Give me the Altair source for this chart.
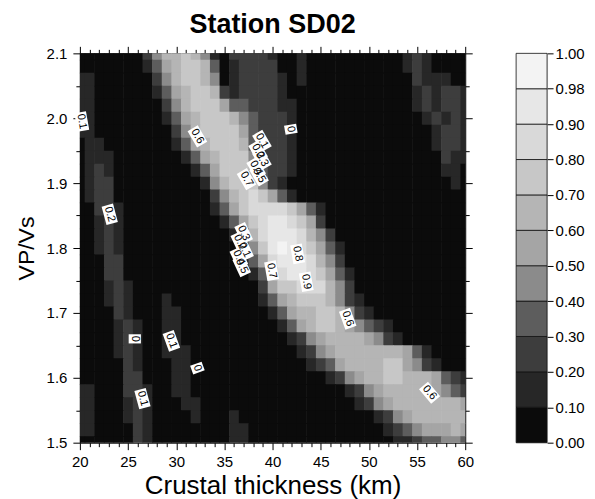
import altair as alt
import pandas as pd

# Grid of the H-k stack.
# Columns: crustal thickness 20..60 km (1 km step); rows: Vp/Vs from 2.10 down to 1.50 (0.02 step).
# Each character is the contour band: 0 = 0.00-0.10, 1 = 0.10-0.20, ... 9 = 0.90-0.98, A = 0.98-1.00
H_VALUES = list(range(20, 61))
K_VALUES = [2.10, 2.08, 2.06, 2.04, 2.02, 2.00, 1.98, 1.96, 1.94, 1.92, 1.90,
            1.88, 1.86, 1.84, 1.82, 1.80, 1.78, 1.76, 1.74, 1.72, 1.70,
            1.68, 1.66, 1.64, 1.62, 1.60, 1.58, 1.56, 1.54, 1.52, 1.50]
ROWS = [
    "0000000246 6764102222 1001000000 0000121000 0",  # 2.10
    "0000000135 6776301222 2001000000 0000121000 0",  # 2.08
    "1100000024 6776401222 2101000000 0000021110 0",  # 2.06
    "1100000013 5677621222 2100000000 0000012122 1",  # 2.04
    "1100000002 4677753322 2110000000 0000012122 1",  # 2.02
    "1100000001 3567776432 2210000000 0000001212 1",  # 2.00
    "1100000000 2467777532 2210000000 0000000122 1",  # 1.98
    "0110000000 1356777632 2210000000 0000000122 1",  # 1.96
    "0111000000 0135677742 2210000000 0000000021 1",  # 1.94
    "0121000000 0013577763 2210000000 0000000011 0",  # 1.92
    "0122000000 0001467774 2100000000 0000000001 0",  # 1.90
    "0122000000 0000246787 5310000000 0000000000 0",  # 1.88
    "0022100000 0000135788 8875310000 0000000000 0",  # 1.86
    "0012100000 0000013578 9987520000 0000000000 0",  # 1.84
    "0012100000 0000001368 9998642000 0000000000 0",  # 1.82
    "0012100000 0000000247 9A98753100 0000000000 0",  # 1.80
    "0002200000 0000000135 8999864200 0000000000 0",  # 1.78
    "0002200000 0000000013 7899875310 0000000000 0",  # 1.76
    "0001210000 0000000002 5778886420 0000000000 0",  # 1.74
    "0001210001 0000000001 3567776421 0000000000 0",  # 1.72
    "0000210001 1000000000 1356677642 1000000000 0",  # 1.70
    "0000121001 1000000000 0135677654 3210000000 0",  # 1.68
    "0000121001 1000000000 0012456666 5421000000 0",  # 1.66
    "0000121001 1100000000 0001245666 6666531000 0",  # 1.64
    "0000021000 1100000000 0000123566 6677542100 0",  # 1.62
    "0000022000 1100000000 0000001245 6677666532 1",  # 1.60
    "1100022100 1100000000 0000000012 4566666543 2",  # 1.58
    "1100012100 0110000000 0000000001 2456666666 5",  # 1.56
    "1100012100 0010001000 0000000000 0124566666 6",  # 1.54
    "1100002100 0000001100 0000000000 0012345556 5",  # 1.52
    "0000002100 0000001100 0000000000 0001123344 3",  # 1.50
]

LEVELS = ["0", "1", "2", "3", "4", "5", "6", "7", "8", "9", "A"]
LEVEL_COLORS = ["#0b0b0b", "#272727", "#3d3d3d", "#5d5d5d", "#8b8b8b", "#a5a5a5",
                "#b5b5b5", "#c7c7c7", "#d9d9d9", "#e7e7e7", "#f3f3f3"]
BAR_LABELS = ["0.00", "0.10", "0.20", "0.30", "0.40", "0.50", "0.60",
              "0.70", "0.80", "0.90", "0.98", "1.00"]
X_TICKS = list(range(20, 61))
Y_TICKS = [1.5, 1.55, 1.6, 1.65, 1.7, 1.75, 1.8, 1.85, 1.9, 1.95, 2.0, 2.05, 2.1]

# contour labels (text, thickness, vp/vs, rotation)
LABEL_TEXT = ["0.1", "0.6", "0", "0.2", "0.7", "0.1", "0.2", "0.3", "0.4", "0.5",
              "0.3", "0.2", "0.1", "0.4", "0.5", "0.8", "0.9", "0.7", "0.6", "0.6",
              "0", "0.1", "0", "0.1"]
LABEL_H = [20.2, 32.2, 41.9, 23.1, 37.3, 38.9, 38.5, 38.9, 38.3, 38.6,
           37.0, 36.6, 37.1, 36.5, 36.8, 42.6, 43.5, 39.9, 47.8, 56.3,
           25.7, 29.5, 32.2, 26.5]
LABEL_K = [1.995, 1.972, 1.983, 1.852, 1.906, 1.965, 1.949, 1.937, 1.923, 1.912,
           1.823, 1.809, 1.797, 1.785, 1.772, 1.791, 1.748, 1.765, 1.691, 1.577,
           1.660, 1.657, 1.615, 1.568]
LABEL_ANGLE = [80, 60, 80, 75, 60, 60, 60, 60, 60, 60,
               65, 65, 65, 65, 65, 80, 80, 80, 70, 50,
               90, 70, 70, 75]

H_STEP = 1.0
K_STEP = 0.02

recs = []
for k, row in zip(K_VALUES, ROWS):
    s = row.replace(" ", "")
    s = (s + "0" * len(H_VALUES))[:len(H_VALUES)]
    for h, ch in zip(H_VALUES, s):
        # cells overlap very slightly so that no seams show between them
        recs.append({"H": h - H_STEP / 2, "H2": h + H_STEP * 0.56,
                     "K": k - K_STEP * 0.56, "K2": k + K_STEP / 2, "lvl": ch})
grid = pd.DataFrame(recs)

labels = pd.DataFrame({"t": LABEL_TEXT, "H": LABEL_H, "K": LABEL_K, "ang": LABEL_ANGLE})
labels["kind"] = ["long" if len(t) > 1 else "short" for t in labels["t"]]

FONT = "Liberation Sans"
color_scale = alt.Scale(domain=LEVELS, range=LEVEL_COLORS)
xs = alt.Scale(domain=[20, 60], nice=False, zero=False)
ys = alt.Scale(domain=[1.5, 2.1], nice=False, zero=False)

xmaj = "datum.value % 5 == 0"
ymaj = "abs(datum.value * 10 - round(datum.value * 10)) < 0.001"

x_axis = alt.Axis(values=X_TICKS, labelExpr=f"{xmaj} ? datum.label : ''", format="d",
                  tickSize={"condition": {"test": xmaj, "value": 7}, "value": 4},
                  title="Crustal thickness (km)", titleFontSize=26, titleFontWeight="normal",
                  titleFont=FONT, labelFont=FONT, labelFontSize=15, labelPadding=5,
                  titlePadding=3, grid=False, domainColor="black", tickColor="black",
                  labelColor="black", titleColor="black", labelFlush=False)
y_axis = alt.Axis(values=Y_TICKS, labelExpr=f"{ymaj} ? datum.label : ''", format=".1f",
                  tickSize={"condition": {"test": ymaj, "value": 7}, "value": 4},
                  title="VP/Vs", titleFontSize=23, titleFontWeight="normal",
                  titleFont=FONT, labelFont=FONT, labelFontSize=15, labelPadding=6,
                  titlePadding=8, grid=False, domainColor="black", tickColor="black",
                  labelColor="black", titleColor="black", labelFlush=False)
x_top = alt.Axis(orient="top", values=X_TICKS, labels=False, title=None,
                 tickSize={"condition": {"test": xmaj, "value": 7}, "value": 4},
                 grid=False, domainColor="black", tickColor="black")
y_right = alt.Axis(orient="right", values=Y_TICKS, labels=False, title=None,
                   tickSize={"condition": {"test": ymaj, "value": 7}, "value": 4},
                   grid=False, domainColor="black", tickColor="black")

heat = alt.Chart(grid).mark_rect(clip=True).encode(
    x=alt.X("H:Q", scale=xs, axis=x_axis),
    x2="H2:Q",
    y=alt.Y("K:Q", scale=ys, axis=y_axis),
    y2="K2:Q",
    color=alt.Color("lvl:N", scale=color_scale, legend=None),
)
frame = alt.Chart(grid).mark_point(opacity=0).encode(
    x=alt.X("H:Q", scale=xs, axis=x_top),
    y=alt.Y("K:Q", scale=ys, axis=y_right),
)
box_scale = alt.Scale(domain=["short", "long"],
                      range=["M-0.75,-1L0.75,-1L0.75,1L-0.75,1Z",
                             "M-1,-0.62L1,-0.62L1,0.62L-1,0.62Z"])
size_scale = alt.Scale(domain=["short", "long"], range=[150, 360])
boxes = alt.Chart(labels).mark_point(filled=True, fill="white", opacity=1, strokeWidth=0).encode(
    x=alt.X("H:Q", scale=xs, axis=None),
    y=alt.Y("K:Q", scale=ys, axis=None),
    shape=alt.Shape("kind:N", scale=box_scale, legend=None),
    size=alt.Size("kind:N", scale=size_scale, legend=None),
    angle=alt.Angle("ang:Q", scale=None),
)
texts = alt.Chart(labels).mark_text(font=FONT, fontSize=11, color="black",
                                    align="center", baseline="middle").encode(
    x=alt.X("H:Q", scale=xs, axis=None),
    y=alt.Y("K:Q", scale=ys, axis=None),
    text="t:N",
    angle=alt.Angle("ang:Q", scale=None),
)
main = alt.layer(heat, frame, boxes, texts).resolve_axis(
    x="independent", y="independent").properties(
    width=386, height=390,
    title=alt.TitleParams("Station SD02", fontSize=27, fontWeight="bold", font=FONT,
                          anchor="middle", offset=7, color="black"),
)

bar_df = pd.DataFrame({"lvl": LEVELS, "lo": list(range(11)), "hi": list(range(1, 12))})
bar_expr = "[" + ",".join(f"'{t}'" for t in BAR_LABELS) + "][datum.value]"
bar = alt.Chart(bar_df).mark_rect(stroke="#111111", strokeWidth=0.8).encode(
    x=alt.value(0), x2=alt.value(31),
    y=alt.Y("lo:Q", scale=alt.Scale(domain=[0, 11], nice=False, zero=False),
            axis=alt.Axis(orient="right", values=list(range(12)), labelExpr=bar_expr,
                          title=None, grid=False, domain=False, tickSize=6,
                          tickColor="black", labelColor="black", labelFont=FONT,
                          labelFontSize=15, labelPadding=2, labelFlush=False)),
    y2="hi:Q",
    color=alt.Color("lvl:N", scale=color_scale, legend=None),
).properties(width=31, height=390)

chart = alt.hconcat(main, bar, spacing=51, bounds="flush").properties(
    padding={"left": 6, "top": 2, "right": 2, "bottom": 0}
).configure_view(stroke=None).configure(background="white")

chart.save("out.html", embed_options={"renderer": "svg", "actions": False})
